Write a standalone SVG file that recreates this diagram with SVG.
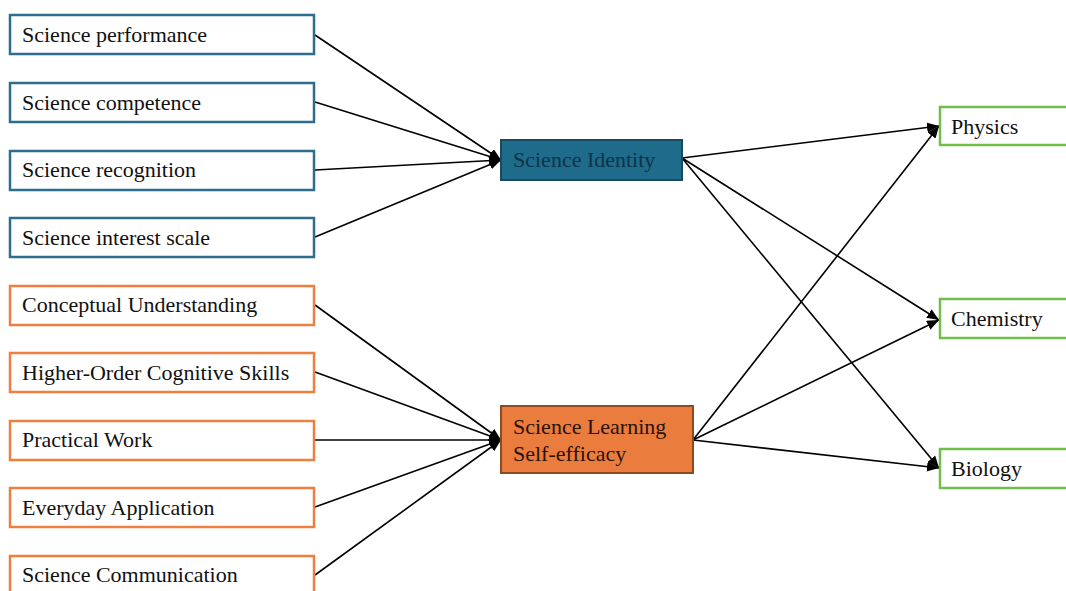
<svg xmlns="http://www.w3.org/2000/svg" width="1066" height="591" viewBox="0 0 1066 591">
<style>
text{font-family:"Liberation Serif","Times New Roman",serif;font-size:22px;fill:#111}
.bl{fill:#fff;stroke:#2d6d8d;stroke-width:2.5}
.or{fill:#fff;stroke:#ee7f3f;stroke-width:2.5}
.gr{fill:#fff;stroke:#6fbf4a;stroke-width:2.5}
.c line{stroke:#000;stroke-width:1.6;marker-end:url(#ah)}
</style>
<defs>
<marker id="ah" viewBox="0 0 12 10" refX="12" refY="5" markerWidth="12" markerHeight="10" markerUnits="userSpaceOnUse" orient="auto">
<path d="M0,0 L12,5 L0,10 Z" fill="#000"/>
</marker>
</defs>
<rect width="1066" height="591" fill="#fff"/>
<g class="c">
<line x1="315" y1="35" x2="501" y2="160"/>
<line x1="315" y1="102" x2="501" y2="160"/>
<line x1="315" y1="170" x2="501" y2="160"/>
<line x1="315" y1="237" x2="501" y2="160"/>
<line x1="315" y1="305" x2="501" y2="440"/>
<line x1="315" y1="372" x2="501" y2="440"/>
<line x1="315" y1="440" x2="501" y2="440"/>
<line x1="315" y1="507" x2="501" y2="440"/>
<line x1="315" y1="575" x2="501" y2="440"/>
<line x1="682" y1="158" x2="939" y2="126"/>
<line x1="682" y1="158" x2="939" y2="320"/>
<line x1="682" y1="158" x2="939" y2="468"/>
<line x1="693" y1="440" x2="939" y2="126"/>
<line x1="693" y1="440" x2="939" y2="320"/>
<line x1="693" y1="440" x2="939" y2="468"/>
</g>
<g id="n1"><rect class="bl" x="10" y="15" width="304" height="39"/><text x="22" y="42">Science performance</text></g>
<g id="n2"><rect class="bl" x="10" y="83" width="304" height="39"/><text x="22" y="110">Science competence</text></g>
<g id="n3"><rect class="bl" x="10" y="151" width="304" height="39"/><text x="22" y="177">Science recognition</text></g>
<g id="n4"><rect class="bl" x="10" y="218" width="304" height="39"/><text x="22" y="245">Science interest scale</text></g>
<g id="n5"><rect class="or" x="10" y="286" width="304" height="39"/><text x="22" y="312">Conceptual Understanding</text></g>
<g id="n6"><rect class="or" x="10" y="353" width="304" height="39"/><text x="22" y="380">Higher-Order Cognitive Skills</text></g>
<g id="n7"><rect class="or" x="10" y="421" width="304" height="39"/><text x="22" y="447">Practical Work</text></g>
<g id="n8"><rect class="or" x="10" y="488" width="304" height="39"/><text x="22" y="515">Everyday Application</text></g>
<g id="n9"><rect class="or" x="10" y="556" width="304" height="39"/><text x="22" y="582">Science Communication</text></g>
<g id="identity"><rect x="501" y="140" width="181" height="40" fill="#1e6b8c" stroke="#1a4a60" stroke-width="2"/><text x="513" y="167" style="fill:#0f3345">Science Identity</text></g>
<g id="slse"><rect x="501" y="406" width="192" height="67" fill="#ea7c3e" stroke="#8a4a22" stroke-width="2"/><text x="513" y="434" style="fill:#2a1208">Science Learning</text><text x="513" y="461" style="fill:#2a1208">Self-efficacy</text></g>
<g id="physics"><rect class="gr" x="940" y="107" width="130" height="38"/><text x="951" y="134">Physics</text></g>
<g id="chemistry"><rect class="gr" x="940" y="299" width="130" height="39"/><text x="951" y="326">Chemistry</text></g>
<g id="biology"><rect class="gr" x="940" y="449" width="130" height="39"/><text x="951" y="476">Biology</text></g>
</svg>
